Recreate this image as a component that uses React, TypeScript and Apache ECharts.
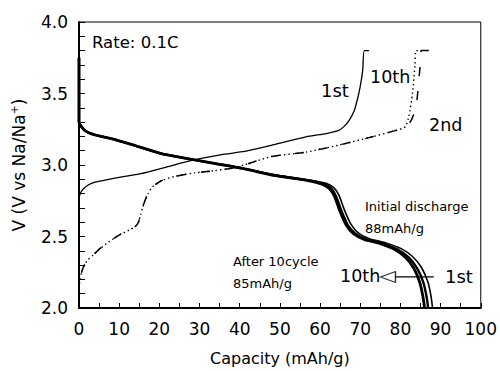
import React, { useEffect, useRef } from 'react';
import * as echarts from 'echarts';

// Charge curves [capacity mAh/g, voltage V]
const charge1st = [
  [0, 2.77], [0.3, 2.8], [1, 2.83], [2.3, 2.86], [4, 2.88], [6.5, 2.895], [11.4, 2.92], [15.5, 2.94],
  [20.5, 2.976], [26.3, 3.02], [30.4, 3.046], [36.2, 3.076], [41.2, 3.095], [48.2, 3.14], [56.5, 3.197],
  [61.5, 3.22], [64.5, 3.24], [66, 3.27], [67.2, 3.31], [68.5, 3.38], [69.3, 3.46], [70, 3.55],
  [70.6, 3.66], [71, 3.8], [72.2, 3.8],
];
const charge2nd = [
  [0, 2.08], [0.2, 2.2], [1, 2.28], [2, 2.33], [3.5, 2.37], [5, 2.41], [7.3, 2.46], [10, 2.51],
  [12.5, 2.545], [14, 2.57], [14.8, 2.6], [15.3, 2.65], [15.8, 2.7], [16.4, 2.75], [17.2, 2.8],
  [18.2, 2.845], [20.5, 2.89], [23.8, 2.92], [28.8, 2.945], [33.7, 2.96], [38, 2.978], [41, 3.0],
  [48, 3.06], [56.5, 3.09], [64.8, 3.14], [73, 3.197], [78, 3.235], [80.5, 3.256], [82.2, 3.29],
  [83.4, 3.36], [84.1, 3.45], [84.6, 3.6], [85, 3.72], [85.2, 3.8], [87.8, 3.8],
];
const charge10th = [
  [0, 2.08], [0.2, 2.2], [1, 2.28], [2, 2.33], [3.5, 2.37], [5, 2.41], [7.3, 2.46], [10, 2.51],
  [12.5, 2.545], [14, 2.57], [14.8, 2.6], [15.3, 2.65], [15.8, 2.7], [16.4, 2.75], [17.2, 2.8],
  [18.2, 2.845], [20.5, 2.89], [23.8, 2.92], [28.8, 2.945], [33.7, 2.96], [38, 2.978], [41, 3.0],
  [48, 3.06], [56.5, 3.09], [64.8, 3.14], [73, 3.197], [78, 3.235], [80.5, 3.256], [81.3, 3.27],
  [82.1, 3.34], [83, 3.5], [83.6, 3.69], [83.9, 3.8], [85.2, 3.8],
];

// Discharge curves
const discharge1st = [
  [0, 3.75], [0, 3.3], [1.5, 3.24], [4, 3.21], [8, 3.185], [13.5, 3.14], [20.5, 3.08], [27, 3.045],
  [34, 3.01], [41, 2.976], [48, 2.935], [54, 2.908], [58, 2.892], [61.5, 2.872], [63.4, 2.842],
  [64.7, 2.79], [66, 2.69], [67.6, 2.59], [69.5, 2.525], [72.3, 2.485], [76.4, 2.455], [80.2, 2.415],
  [83, 2.36], [85.2, 2.285], [86.8, 2.185], [87.6, 2.085], [88, 2.0],
];
const discharge2nd = [
  [0, 3.75], [0, 3.3], [1.5, 3.24], [4, 3.21], [8, 3.185], [13.5, 3.14], [20.5, 3.08], [27, 3.045],
  [34, 3.01], [41, 2.975], [48, 2.932], [54, 2.905], [58, 2.888], [60.9, 2.868], [62.7, 2.838],
  [64, 2.78], [65.3, 2.68], [66.9, 2.58], [68.8, 2.52], [71.5, 2.48], [75.6, 2.45], [79.2, 2.41],
  [82, 2.355], [84.1, 2.28], [85.7, 2.18], [86.5, 2.08], [86.9, 2.0],
];
const discharge10th = [
  [0, 3.75], [0, 3.3], [1.5, 3.24], [4, 3.21], [8, 3.185], [13.5, 3.14], [20.5, 3.08], [27, 3.045],
  [34, 3.01], [41, 2.975], [48, 2.93], [54, 2.905], [58, 2.885], [60.5, 2.865], [62.3, 2.835],
  [63.6, 2.78], [64.9, 2.68], [66.5, 2.58], [68.3, 2.52], [71, 2.48], [75, 2.45], [78.5, 2.41],
  [81.2, 2.355], [83.3, 2.28], [84.8, 2.18], [85.6, 2.08], [86, 2.0],
];

// Annotation arrow (1st -> 10th)
const arrowLine = [[88.3, 2.217], [78.6, 2.217]];
const arrowHead = [[76.9, 2.217]];

const FONT = '"DejaVu Sans", "Noto Sans", sans-serif';

const labelTexts = [
  { text: 'Rate: 0.1C', x: 92, y: 42, size: 16.5 },
  { text: '1st', x: 321, y: 90, size: 18 },
  { text: '10th', x: 370, y: 77, size: 17.5 },
  { text: '2nd', x: 429, y: 125, size: 17.5 },
  { text: 'Initial discharge', x: 365, y: 206, size: 13 },
  { text: '88mAh/g', x: 365, y: 228, size: 13 },
  { text: 'After 10cycle', x: 233, y: 261, size: 13 },
  { text: '85mAh/g', x: 233, y: 283, size: 13 },
  { text: '10th', x: 340, y: 276, size: 17.5 },
  { text: '1st', x: 445, y: 276, size: 18 },
];

export default function App() {
  const ref = useRef<HTMLDivElement>(null);
  useEffect(() => {
    const chart = echarts.init(ref.current!, null, { renderer: 'svg' });
    const line = (data: number[][], width: number, type: any) => ({
      type: 'line',
      data,
      showSymbol: false,
      symbol: 'none',
      smooth: 0.2,
      lineStyle: { color: '#000', width, type },
      z: 3,
    });
    chart.setOption({
      animation: false,
      backgroundColor: '#fff',
      textStyle: { fontFamily: FONT },
      grid: { left: 79, right: 18, top: 22, bottom: 63, show: true, borderColor: '#000', borderWidth: 1 },
      xAxis: {
        type: 'value', min: 0, max: 100, interval: 10,
        axisLine: { show: true, onZero: false, lineStyle: { color: '#000', width: 2 } },
        axisTick: { show: true, inside: true, length: 5, lineStyle: { color: '#000', width: 1 } },
        minorTick: { show: true, splitNumber: 2, length: 5, lineStyle: { color: '#000', width: 1 } },
        splitLine: { show: false },
        axisLabel: { color: '#000', fontSize: 17, margin: 12, fontFamily: FONT },
        name: 'Capacity (mAh/g)', nameLocation: 'middle', nameGap: 42,
        nameTextStyle: { color: '#000', fontSize: 16, fontFamily: FONT },
      },
      yAxis: {
        type: 'value', min: 2, max: 4, interval: 0.5,
        axisLine: { show: true, onZero: false, lineStyle: { color: '#000', width: 2 } },
        axisTick: { show: true, inside: true, length: 6, lineStyle: { color: '#000', width: 1 } },
        minorTick: { show: true, splitNumber: 5, length: 6, lineStyle: { color: '#000', width: 1 } },
        splitLine: { show: false },
        axisLabel: { color: '#000', fontSize: 17, margin: 11, fontFamily: FONT, formatter: (v: number) => v.toFixed(1) },
        name: 'V (V vs Na/Na{sup|+})', nameLocation: 'middle', nameGap: 50,
        nameTextStyle: {
          color: '#000', fontSize: 17, fontFamily: FONT,
          rich: { sup: { color: '#000', fontSize: 11, fontFamily: FONT, padding: [0, 0, 9, 0] } },
        },
      },
      graphic: labelTexts.map((t) => ({
        type: 'text', x: t.x, y: t.y, z: 10,
        style: { text: t.text, fill: '#000', font: `${t.size}px ${FONT}`, verticalAlign: 'middle' },
      })),
      series: [
        line(charge1st, 1.3, 'solid'),
        line(charge10th, 1.4, [1.4, 3]),
        line(charge2nd, 1.5, [9, 15]),
        line(discharge10th, 2.8, 'solid'),
        line(discharge2nd, 2.4, 'solid'),
        line(discharge1st, 1.6, 'solid'),
        {
          type: 'line', data: arrowLine, showSymbol: false, symbol: 'none',
          lineStyle: { color: '#000', width: 1.2 }, z: 5,
        },
        {
          type: 'scatter', data: arrowHead, symbol: 'triangle', symbolSize: [11, 15], symbolRotate: 90,
          itemStyle: { color: '#fff', borderColor: '#000', borderWidth: 1.2 }, z: 6,
        },
      ],
    });
    return () => chart.dispose();
  }, []);
  return <div ref={ref} style={{ position: 'fixed', left: 0, top: 0, width: 500, height: 371, background: '#fff' }} />;
}
